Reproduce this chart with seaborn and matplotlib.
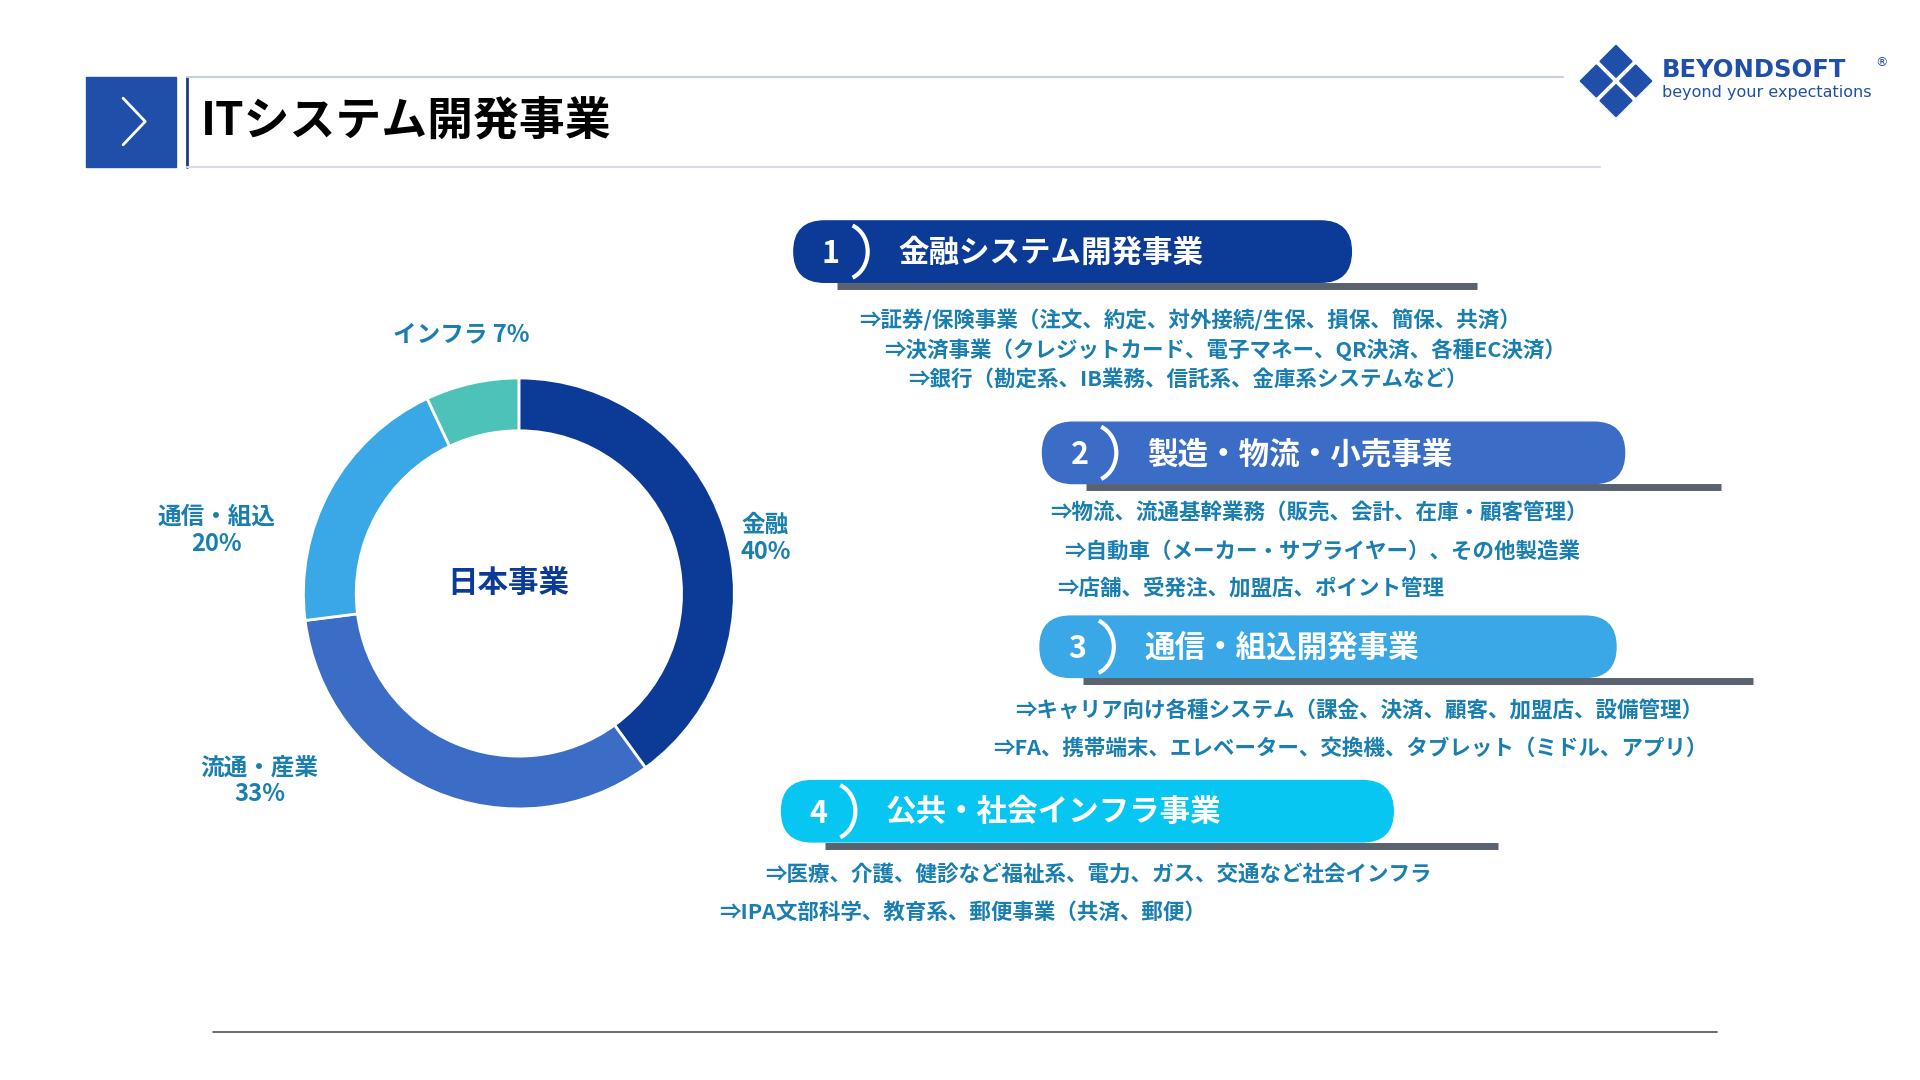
import numpy as np
import matplotlib.pyplot as plt
import seaborn as sns
from matplotlib.patches import FancyBboxPatch, Rectangle, Arc, Polygon

# =================================================================
# 1. DONNÉES
# =================================================================
segments = ['金融', '流通・産業', '通信・組込', 'インフラ']
shares = [40, 33, 20, 7]
seg_colors = ['#0b3b97', '#3b6cc6', '#3aa7e6', '#4dc2b9']

banner_titles = ['金融システム開発事業', '製造・物流・小売事業', '通信・組込開発事業', '公共・社会インフラ事業']
banner_colors = ['#0b3b97', '#3b6cc6', '#3aa7e6', '#08c6f2']
banner_lines = [
    ['⇒証券/保険事業（注文、約定、対外接続/生保、損保、簡保、共済）',
     '⇒決済事業（クレジットカード、電子マネー、QR決済、各種EC決済）',
     '⇒銀行（勘定系、IB業務、信託系、金庫系システムなど）'],
    ['⇒物流、流通基幹業務（販売、会計、在庫・顧客管理）',
     '⇒自動車（メーカー・サプライヤー）、その他製造業',
     '⇒店舗、受発注、加盟店、ポイント管理'],
    ['⇒キャリア向け各種システム（課金、決済、顧客、加盟店、設備管理）',
     '⇒FA、携帯端末、エレベーター、交換機、タブレット（ミドル、アプリ）'],
    ['⇒医療、介護、健診など福祉系、電力、ガス、交通など社会インフラ',
     '⇒IPA文部科学、教育系、郵便事業（共済、郵便）'],
]

# =================================================================
# 2. STYLE
# =================================================================
sns.set_theme(style="white")
plt.rcParams['font.family'] = ['Noto Sans CJK JP', 'DejaVu Sans']
txt_blue = '#1a7fb0'

fig = plt.figure(figsize=(19.2, 10.8), dpi=100)

# Overlay in reference pixel coordinates
bg = fig.add_axes([0, 0, 1, 1])
bg.set_xlim(0, 1560)
bg.set_ylim(880, 0)
bg.axis('off')

# Title bar
bg.add_patch(Rectangle((70, 63), 73, 73, color='#1f4fa8'))
bg.plot([100, 118, 100], [80, 99, 118], color='white', lw=2)
bg.plot([152, 152], [63, 136], color='#1b3c82', lw=2)
bg.plot([152, 1270], [63, 63], color='#c9cfdb', lw=1.5)
bg.plot([152, 1300], [136, 136], color='#d6dbe5', lw=1.5)
bg.text(163, 99, 'ITシステム開発事業', fontsize=33, fontweight='bold', color='black', va='center')

# Logo
for dx, dy in [(0, -16), (16, 0), (0, 16), (-16, 0)]:
    cx, cy = 1313 + dx, 66 + dy
    bg.add_patch(Polygon([[cx, cy - 13], [cx + 13, cy], [cx, cy + 13], [cx - 13, cy]], color='#1f4fa8'))
bg.text(1350, 57, 'BEYONDSOFT', fontsize=17.5, fontweight='bold', color='#1f4fa8', va='center', family='DejaVu Sans')
bg.text(1524, 51, '®', fontsize=9, color='#1f4fa8', va='center', family='DejaVu Sans')
bg.text(1350, 75, 'beyond your expectations', fontsize=11.5, color='#1f4fa8', va='center', family='DejaVu Sans')

# Banners
banner_geom = [(645, 1098, 180, 1200), (847, 1320, 344, 1398), (845, 1313, 502, 1424), (635, 1132, 636, 1217)]
text_starts = [(698, 261, 24), (853, 418, 31), (825, 579, 31), (622, 712, 31)]
indents = [[0, 20, 40], [0, 12, 6], [0, -18], [0, -38]]
for i, (x0, x1, y0, xu) in enumerate(banner_geom):
    bg.plot([x0 + 35, xu], [y0 + 53, y0 + 53], color='#5a6270', lw=5, solid_capstyle='butt')
    bg.add_patch(FancyBboxPatch((x0, y0), x1 - x0, 50, boxstyle='round,pad=0,rounding_size=25',
                                color=banner_colors[i]))
    bg.add_patch(Arc((x0 + 40, y0 + 25), 40, 46, theta1=-70, theta2=70, color='white', lw=3))
    bg.text(x0 + 30, y0 + 27, str(i + 1), fontsize=22, fontweight='bold', color='white', ha='center', va='center')
    bg.text(x0 + 85, y0 + 26, banner_titles[i], fontsize=22, fontweight='bold', color='white', va='center')
    tx, ty, step = text_starts[i]
    for k, line in enumerate(banner_lines[i]):
        bg.text(tx + indents[i][k], ty + k * step, line, fontsize=15.5, fontweight='bold', color=txt_blue, va='center')

# Bottom rule
bg.plot([173, 1395], [841, 841], color='#555555', lw=1.2)

# =================================================================
# 3. DONUT
# =================================================================
ax = fig.add_axes([0.158, 0.251, 0.2245, 0.399])
ax.pie(shares, colors=seg_colors, startangle=90, counterclock=False,
       wedgeprops=dict(width=0.245, edgecolor='white', linewidth=2))
ax.set_xlim(-1, 1)
ax.set_ylim(-1, 1)
ax.set_aspect('equal')
ax.text(-0.05, 0.05, '日本事業', fontsize=22, fontweight='bold', color='#0b3b97', ha='center', va='center')

bg.text(375, 272, 'インフラ 7%', fontsize=17, fontweight='bold', color=txt_blue, ha='center', va='center')
bg.text(622, 439, '金融\n40%', fontsize=17, fontweight='bold', color=txt_blue, ha='center', va='center', linespacing=1.15)
bg.text(176, 432, '通信・組込\n20%', fontsize=17, fontweight='bold', color=txt_blue, ha='center', va='center', linespacing=1.15)
bg.text(211, 636, '流通・産業\n33%', fontsize=17, fontweight='bold', color=txt_blue, ha='center', va='center', linespacing=1.15)

fig.savefig('out.png', dpi=100)
